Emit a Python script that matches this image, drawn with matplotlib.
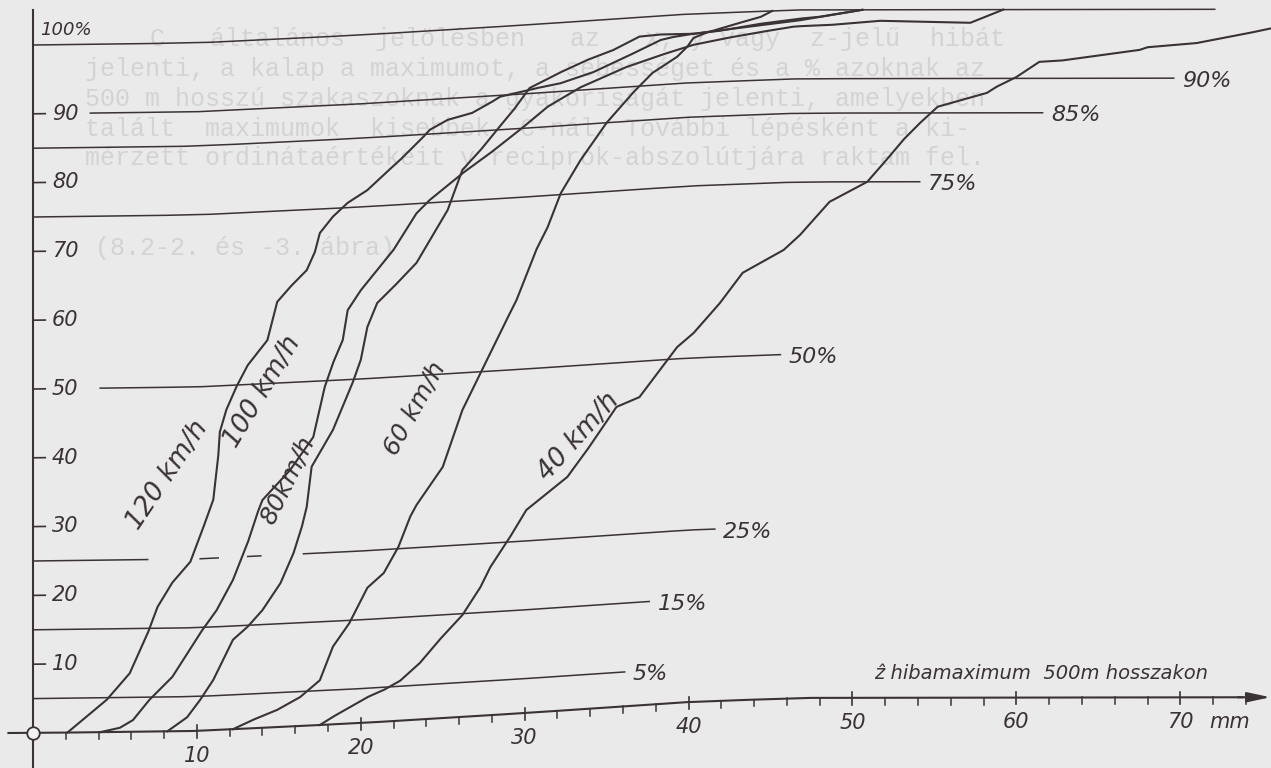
import numpy as np
import matplotlib
matplotlib.use("Agg")
import matplotlib.pyplot as plt
import matplotlib.transforms as mtransforms
from matplotlib.path import Path

# Cumulative share (%) of 500 m sections whose max z-error stays below x (mm), per speed
V120_MM = [2.1, 4.5, 5.9, 7.0, 7.6, 8.5, 9.6, 10.4, 11.0, 11.3, 11.4, 11.8, 12.4, 13.1,
           14.3, 14.9, 15.7, 16.7, 17.2, 17.5, 18.3, 19.2, 20.4, 21.6, 22.4, 23.8, 24.2,
           25.3, 26.8, 27.9, 28.5, 29.7, 30.7, 32.2, 34.2, 36.2, 38.3, 39.0, 40.7, 44.4,
           46.8, 50.6]
V120_PCT = [0, 4.7, 8.5, 14.3, 18.1, 21.6, 24.6, 29.6, 33.5, 39.7, 43.3, 46.5, 49.7, 52.8,
            56.3, 61.8, 63.9, 66.2, 68.8, 71.5, 73.8, 75.7, 77.4, 79.9, 81.5, 84.6, 85.6,
            86.9, 87.7, 89.0, 89.8, 90.3, 90.7, 91.2, 92.5, 94.4, 96.5, 96.8, 97.2, 98.0,
            98.5, 100]

V100_MM = [4.1, 5.3, 6.1, 7.1, 8.5, 10.2, 11.2, 12.2, 13.1, 13.7, 14.0, 15.7, 17.1, 17.8,
           18.3, 18.9, 19.2, 20.0, 21.0, 22.0, 23.4, 24.2, 26.2, 27.9, 29.7, 31.4, 33.4,
           36.2, 38.3, 40.3, 42.3, 44.4, 46.4, 48.6, 51.7, 56.8, 57.2, 59.2]
V100_PCT = [0, 0.6, 1.7, 4.6, 7.9, 14.2, 17.4, 21.7, 27.0, 31.3, 33.1, 37.3, 41.9, 49.1,
            52.5, 55.8, 60.1, 62.9, 65.7, 68.5, 73.6, 75.4, 79.0, 81.7, 84.8, 87.9, 90.4,
            92.9, 94.3, 95.5, 96.3, 97.0, 97.6, 97.8, 98.4, 98.1, 98.1, 100]

V80_MM = [8.2, 9.4, 10.2, 11.0, 11.8, 12.2, 13.1, 14.0, 15.1, 15.9, 16.4, 16.7, 17.0, 17.3,
          18.3, 19.5, 20.0, 20.4, 21.0, 22.0, 23.4, 25.3, 26.2, 27.3, 28.3, 29.3, 30.3,
          32.2, 33.8, 35.4, 37.0, 38.3, 40.3, 41.9, 44.4, 48.0, 50.6]
V80_PCT = [0, 2.0, 4.5, 7.3, 11.1, 13.0, 14.8, 17.1, 20.9, 25.2, 28.9, 31.8, 37.6, 38.8,
           42.8, 49.5, 52.8, 57.5, 60.9, 63.1, 66.4, 73.8, 79.5, 82.2, 85.0, 87.7, 90.8,
           92.8, 94.3, 95.5, 97.2, 97.3, 97.1, 97.4, 98.2, 99.0, 100]

V60_MM = [12.2, 13.4, 14.9, 16.3, 17.5, 18.3, 19.3, 20.4, 21.4, 22.3, 23.0, 23.4, 25.0,
          26.2, 27.3, 28.5, 29.5, 30.7, 31.4, 32.2, 33.4, 35.0, 36.6, 37.8, 39.3, 39.9,
          40.3, 41.1, 42.7, 44.4, 45.1]
V60_PCT = [0, 1.2, 2.5, 4.2, 6.5, 11.3, 14.6, 19.6, 21.6, 25.3, 29.5, 31.2, 36.5, 44.6,
           49.8, 55.5, 60.1, 67.2, 70.4, 75.2, 79.8, 85.0, 89.1, 91.8, 93.9, 95.2, 96.5,
           97.2, 98.2, 99.2, 100]

V40_MM = [17.5, 18.3, 20.4, 21.4, 22.4, 23.6, 24.8, 26.2, 27.3, 27.9, 29.1, 30.1, 32.6,
          33.8, 35.6, 37.0, 38.7, 39.3, 40.3, 41.9, 43.3, 45.8, 46.8, 48.6, 50.9, 51.9,
          53.1, 54.1, 55.2, 58.2, 58.8, 60.0, 61.4, 62.8, 67.5, 68.0, 71.0, 74.1, 75.5]
V40_PCT = [0, 1.1, 3.7, 4.6, 5.8, 8.2, 11.4, 14.8, 18.7, 21.5, 25.7, 29.5, 33.9, 37.6,
           43.6, 44.8, 49.9, 51.7, 53.6, 57.8, 62.1, 65.2, 67.3, 72.1, 75.0, 77.7, 81.1,
           83.5, 85.9, 87.9, 88.8, 90.2, 92.4, 92.6, 94.1, 94.5, 95.1, 96.5, 97.2]

SPEED_NAMES = ["120 km/h", "100 km/h", "80km/h", "60 km/h", "40 km/h"]

# reference levels and where each guide line runs (mm)
PCT_LEVELS = [100, 90, 85, 75, 50, 25, 15, 5]
PCT_SPANS = [[(0, 72.1)], [(3.5, 69.6)], [(0, 61.6)], [(0, 54.1)], [(4.1, 45.6)],
             [(0, 7.0), (10.2, 11.3), (13.1, 13.9), (16.5, 41.6)],
             [(0, 37.6)], [(0, 36.1)]]

Y_TICKS = [10, 20, 30, 40, 50, 60, 70, 80, 90]
X_MAJOR = [10, 20, 30, 40, 50, 60, 70]
X_MINOR = [m for m in range(2, 76, 2) if m % 10]

# the printed page bows upward toward the right
TILT_MM = [0, 10, 20, 30, 40, 46.8, 75.5]
TILT_PCT = [0, 0.3, 1.45, 2.9, 4.5, 5.1, 5.2]

INK = "#3b3333"
PAPER = "#eaeaea"
GHOST = "#d3d3d3"


class PageTilt(mtransforms.Transform):
    input_dims = 2
    output_dims = 2
    is_separable = False

    def transform_non_affine(self, values):
        values = np.asarray(values, dtype=float)
        out = values.copy()
        out[:, 1] = values[:, 1] + np.interp(values[:, 0], TILT_MM, TILT_PCT)
        return out

    def transform_path_non_affine(self, path):
        path = path.interpolated(20)
        return Path(self.transform_non_affine(path.vertices), path.codes)


fig = plt.figure(figsize=(12.71, 7.68), dpi=100, facecolor=PAPER)
ax = fig.add_axes([0, 0, 1, 1])
ax.set_autoscale_on(False)
ax.set_xlim(-33 / 16.39, (1271 - 33) / 16.39)
ax.set_ylim((733 - 768) / 6.88, 733 / 6.88)
ax.axis("off")
tr = PageTilt() + ax.transData

font = dict(family="DejaVu Sans", style="italic", color=INK)

# text from the facing page showing through the paper
ghost_lines = [
    (150, 46, "C   általános  jelölésben   az   x, y vagy  z-jelű  hibát"),
    (85, 76, "jelenti, a kalap a maximumot, a sebességet és a % azoknak az"),
    (85, 106, "500 m hosszú szakaszoknak a gyakoriságát jelenti, amelyekben"),
    (85, 136, "talált  maximumok  kisebbek  C-nál. További lépésként a ki-"),
    (85, 165, "mérzett ordinátaértékeit y reciprok-abszolútjára raktam fel."),
    (95, 255, "(8.2-2. és -3. ábra)"),
]
for gx, gy, s in ghost_lines:
    fig.text(gx / 1271, 1 - gy / 768, s, family="Liberation Mono", fontsize=18,
             color=GHOST, va="baseline", zorder=-1)

# axes
ax.plot([0, 0], [-6, 105.1], color=INK, lw=1.5, transform=tr)
ax.plot([-1.5, 73.8], [0, 0], color=INK, lw=1.5, transform=tr)
ax.annotate("", xy=(75.5, 0), xytext=(73.5, 0), xycoords=tr, textcoords=tr,
            arrowprops=dict(arrowstyle="-|>,head_length=1.4,head_width=0.3",
                            color=INK, lw=1.5, shrinkA=0, shrinkB=0))
ax.plot([0], [0], "o", ms=9, mfc="#f2f2f2", mec=INK, mew=1.3, transform=tr, zorder=5)

for m in X_MINOR:
    ax.plot([m, m], [0, -1.0], color=INK, lw=1.1, transform=tr)
for m in X_MAJOR:
    ax.plot([m, m], [0.8, -1.0], color=INK, lw=1.2, transform=tr)
    ax.text(m, -3.6, str(m), ha="center", va="center", fontsize=15, transform=tr, **font)
ax.text(73.0, -3.6, "mm", ha="center", va="center", fontsize=15, transform=tr, **font)
ax.text(51.3, 3.6, "ẑ hibamaximum  500m hosszakon", ha="left", va="center",
        fontsize=14, transform=tr, **font)

for p in Y_TICKS:
    ax.plot([0, 0.75], [p, p], color=INK, lw=1.2, transform=tr)
    ax.text(1.15, p, str(p), ha="left", va="center", fontsize=15, transform=tr, **font)
ax.text(0.45, 102.2, "100%", ha="left", va="center", fontsize=13, transform=tr, **font)

# percentage guide lines
for level, spans in zip(PCT_LEVELS, PCT_SPANS):
    for a, b in spans:
        ax.plot([a, b], [level, level], color=INK, lw=1.1, transform=tr)
    if level != 100:
        end = spans[-1][1]
        ax.text(end + 0.5, level - 0.4, f"{level}%", ha="left", va="center",
                fontsize=16, transform=tr, **font)

# speed curves
curves = [(V120_MM, V120_PCT), (V100_MM, V100_PCT), (V80_MM, V80_PCT),
          (V60_MM, V60_PCT), (V40_MM, V40_PCT)]
for xs, ys in curves:
    ax.plot(xs, ys, color=INK, lw=1.5, solid_joinstyle="round", transform=tr)

label_at = [(8.2, 37.3, 56, 19), (14.0, 48.8, 59, 19), (15.5, 35.8, 64, 18),
            (23.3, 45.3, 61, 18), (33.3, 39.6, 48, 19)]
for name, (lx, ly, rot, size) in zip(SPEED_NAMES, label_at):
    ax.text(lx, ly, name, rotation=rot, rotation_mode="anchor", ha="center",
            va="center", fontsize=size, transform=tr, **font)

fig.savefig("out.png", dpi=100, facecolor=PAPER)
